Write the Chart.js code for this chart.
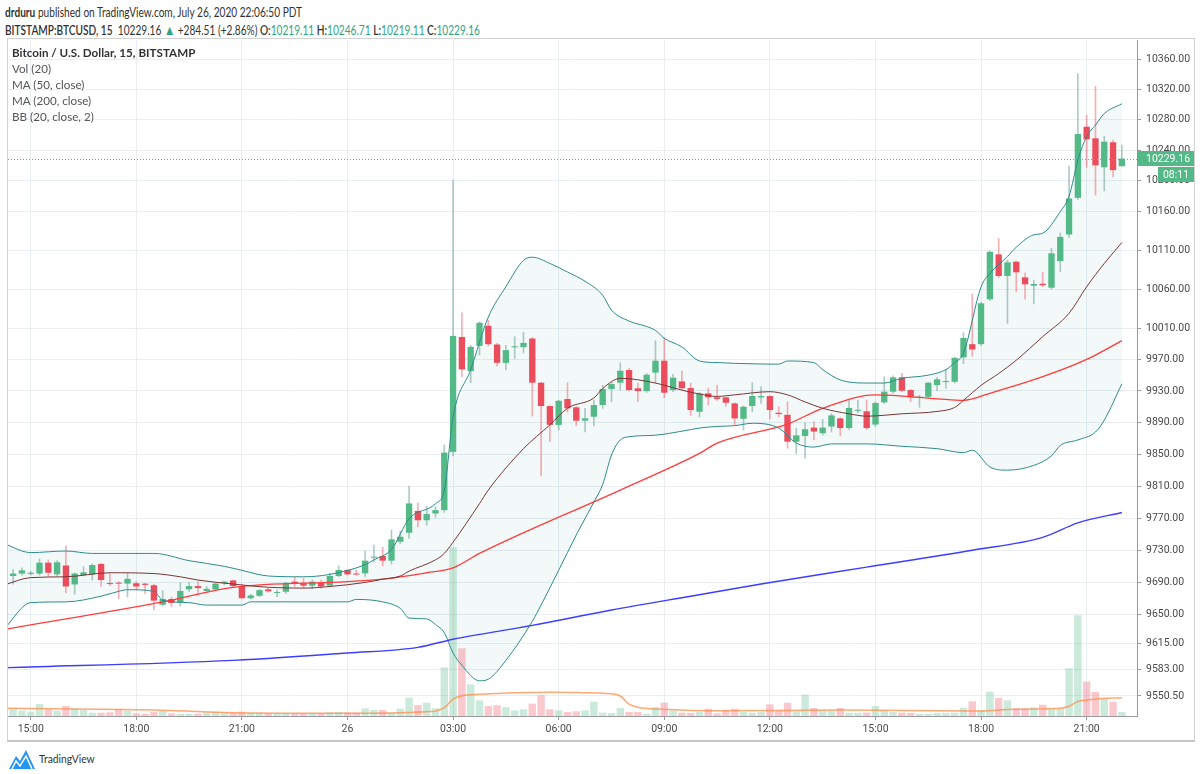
<!DOCTYPE html>
<html><head><meta charset="utf-8">
<script src="https://cdn.jsdelivr.net/npm/chart.js"></script>
<style>
body{margin:0;background:#fff;width:1200px;height:774px;overflow:hidden;font-family:Lato,'Open Sans',sans-serif;color:#333;position:relative}
.hdr{position:absolute;left:5px;white-space:nowrap;font-size:12.5px;color:#333;transform:scaleX(0.81);transform-origin:0 0}
#h1{top:5px}
#h2{top:21px}
.t{color:#2fa586}
#frame{position:absolute;left:7px;top:38px;width:1188px;height:704px;border:1px solid #d2d2d2;border-bottom:2px solid #c6c6c6;box-sizing:border-box}
#wrap{position:absolute;left:8px;top:40px;width:1186px;height:700px}
.lg{position:absolute;left:12px;font-size:12px;color:#555;white-space:nowrap;transform:scaleX(0.97);transform-origin:0 0}
#logo{position:absolute;left:8px;top:748px}
#logotext{position:absolute;left:39px;top:751px;font-size:12px;color:#333;transform:scaleX(0.86);transform-origin:0 0}
</style></head><body>
<div id="h1" class="hdr"><b>drduru</b> published on TradingView.com, July 26, 2020 22:06:50 PDT</div>
<div id="h2" class="hdr"><b style="font-weight:600">BITSTAMP:BTCUSD, 15</b>&nbsp; 10229.16 <span class="t" style="font-size:14px">▲</span> +284.51 (+2.86%) <b style="font-weight:600">O:</b><span class="t">10219.11</span> <b style="font-weight:600">H:</b><span class="t">10246.71</span> <b style="font-weight:600">L:</b><span class="t">10219.11</span> <b style="font-weight:600">C:</b><span class="t">10229.16</span></div>
<div id="frame"></div>
<div id="wrap"><canvas id="c" width="1186" height="700"></canvas></div>
<div class="lg" style="top:45px;color:#333;font-weight:bold">Bitcoin / U.S. Dollar, 15, BITSTAMP</div>
<div class="lg" style="top:61px">Vol (20)</div>
<div class="lg" style="top:77px">MA (50, close)</div>
<div class="lg" style="top:93px">MA (200, close)</div>
<div class="lg" style="top:109px">BB (20, close, 2)</div>
<svg id="logo" width="28" height="22" viewBox="0 0 28 22"><path d="M1 21 L8 8 L12 13 L18 2 L27 21 Z" fill="#2196f3"/><path d="M4 21 L8 13 L12 18 L18 8 L24 21" fill="none" stroke="#fff" stroke-width="1.5"/></svg>
<div id="logotext">TradingView</div>
<script>
// ---- categories: 15-minute candles from 25 Jul 14:15 to 26 Jul 22:00 ----
const candleCount = 128;
function timeLabel(i){const m=14*60+15+15*i;const d=25+Math.floor(m/1440);const mm=m%1440;return '07-'+d+' '+String(Math.floor(mm/60)).padStart(2,'0')+':'+String(mm%60).padStart(2,'0');}
const times = Array.from({length:candleCount},(_,i)=>timeLabel(i));
const tickTimes = ['07-25 15:00','07-25 18:00','07-25 21:00','07-26 00:00','07-26 03:00','07-26 06:00','07-26 09:00','07-26 12:00','07-26 15:00','07-26 18:00','07-26 21:00'];
const tickLabels = ['15:00','18:00','21:00','26','03:00','06:00','09:00','12:00','15:00','18:00','21:00'];
const priceTicks = [10360,10320,10280,10240,10200,10160,10110,10060,10010,9970,9930,9890,9850,9810,9770,9730,9690,9650,9615,9583,9550.5];

// ---- OHLC ----
const opens = [9716,9698,9701,9700.5,9701,9714.5,9700,9711,9687.5,9699,
9700,9713,9689,9689,9688.5,9689,9688.5,9686.5,9662.5,9669.5,
9665,9681.5,9685.5,9679.5,9681.5,9689,9692.5,9685.5,9670.5,9673.5,
9681.5,9677,9678.5,9691,9689,9686,9690,9686,9698,9705.5,
9700.5,9701.3,9720.7,9722.8,9717,9740.5,9751.7,9779,9767.3,9775.7,
9779.9,9853,9998.7,9955.2,9987.3,10012.9,9989,9965.7,9985.5,9985.6,
9996.7,9940.4,9910.8,9887,9919.7,9909.2,9892.3,9897.3,9912.1,9932.4,
9940.4,9956.5,9933.3,9929.8,9953.2,9968.4,9931.1,9942.1,9933.6,9903.6,
9926.9,9921.8,9921.8,9914.2,9894.7,9910.8,9921.8,9923.5,9902.3,9899.7,
9865.8,9873,9883.6,9876.5,9885,9895.2,9883,9904.8,9904.2,9887.4,
9915.4,9929,9947.2,9931.1,9921.4,9922.6,9937.4,9941.2,9941.6,9972.6,
9989.4,9989.4,10046.9,10104.7,10076.8,10095.2,10075.1,10064.3,10066.9,10061.8,
10096,10130.4,10177.9,10270.8,10255.6,10217.7,10250.4,10219.11];
const highs = [9722,9706,9708,9704,9719,9718,9717,9735.5,9702,9709.5,
9713,9713.5,9701,9691,9701,9691,9689,9688,9680,9672,
9690,9690.5,9691,9685,9690,9691.5,9693,9687,9675.5,9681.5,
9683,9680.5,9690,9696.5,9695,9693,9693,9701.5,9710.5,9706,
9705,9729,9736.4,9733.5,9755,9754,9810,9789,9785,9784,
9861.6,10201,10029.6,9988,10018,10020,9990.5,9988,9999,10004.5,
9998,9941,9911,9918,9940.4,9910,9907.9,9918.4,9937,9941,
9965.7,9958.6,9940,9952,9993.8,9997.6,9951,9955.2,9940,9928,
9933.6,9937.4,9922,9915,9911,9940.4,9935.3,9924,9910,9916.3,
9882.6,9889.7,9891,9894,9901.2,9896,9918.4,9918.4,9918.4,9916,
9948,9949,9952.3,9932,9924.8,9941,9947.2,9957.3,9973,10004,
10053.7,10043,10109.3,10125.3,10097.4,10096,10081,10071.7,10081.6,10112.4,
10132.4,10219.4,10340.8,10286,10324,10258.6,10253.4,10246.71];
const lows = [9694,9688,9699,9699,9699,9697,9698,9677,9675.5,9698,
9693,9685,9686,9670,9672,9681,9676,9656.5,9661,9660,
9661,9678.5,9674.5,9678.5,9680,9687,9684.5,9670,9669.5,9672.5,
9678,9672.5,9676,9685,9683,9682,9683,9685,9697,9699,
9699,9697.3,9715.7,9710.4,9712.8,9738,9744.7,9759,9761,9771,
9777,9848,9948,9940.4,9975.5,9987,9961.5,9957,9971.3,9978.4,
9898.1,9822.6,9865.8,9880.5,9903,9885.8,9878,9885.8,9908,9916.3,
9931,9930,9916.3,9928,9939.6,9921.3,9929,9932,9899,9897.2,
9912,9918,9910.8,9886.7,9880.4,9903.6,9914.2,9894.5,9897.2,9857.5,
9851,9845,9868,9874,9878,9873.3,9881,9902,9881,9885,
9914,9927,9929,9916.3,9909.2,9921,9930.2,9933.3,9940,9964.6,
9974.2,9988,10045,10075,10016,10056.6,10046.9,10040.8,10063,10060,
10082.3,10126.7,10176,10217.7,10181.4,10187,10205,10219.11];
const closes = [9698,9701,9705,9702,9714.5,9702,9715,9685,9701,9702.5,
9711.5,9693,9688,9688.5,9694.5,9685,9687,9667.5,9669.5,9664.5,
9679.5,9685.5,9683,9682,9688.5,9691,9685.5,9670.5,9674,9680.5,
9679,9677.5,9689.5,9689,9686,9691,9685,9698,9705.5,9700,
9699.8,9717,9721.9,9717,9743.5,9746.7,9788.3,9767.3,9775,9779.9,
9852,10000,9957.3,9986,10016.8,9989.4,9965.7,9981.8,9986.5,9991.1,
9940.4,9910.8,9887,9917.5,9907.9,9892.3,9895.3,9912.1,9932.4,9938.7,
9955.6,9931.1,9929.8,9950.5,9968.4,9927.7,9946.7,9933.3,9905.7,9926.9,
9921.8,9919.7,9915,9895.2,9909.9,9923.5,9923.5,9905.7,9900.7,9865.8,
9873.8,9881.5,9878.6,9883.6,9899,9883,9908.4,9905.6,9883,9914.6,
9929,9947.2,9930.2,9921.8,9922.2,9940.4,9944.7,9942.5,9972,9997.4,
9982.7,10041.7,10108,10076.8,10094.4,10081.6,10066.1,10066.5,10064.9,10106,
10127.3,10177.1,10261.2,10254.3,10220.3,10251.2,10214,10229.16];
const volumes = [110,77,53,43,120,67,53,100,77,60,
33,33,37,67,53,27,23,40,53,27,
23,23,23,37,43,37,33,43,33,33,
27,27,27,27,27,30,30,37,40,37,
33,77,60,60,33,73,183,110,133,77,
487,1687,677,317,157,100,107,90,57,67,
123,207,67,57,40,47,57,143,33,30,
80,40,40,23,90,133,57,33,30,40,
73,27,57,73,40,33,40,117,57,133,
47,213,80,57,57,80,33,30,33,100,
57,40,33,30,23,23,30,30,33,83,
147,57,243,180,157,77,77,87,113,73,
73,477,1007,343,240,173,143,40];

// ---- indicators: [candle number, value] ----
const ma200 = [[0,9585],[26,9594],[39,9603],[47,9610],[51,9620],[60,9637],[69,9656],[78,9673],[86,9688],[98,9709],[110,9730],[118,9746],[122,9764],[127,9777]];
const ma50 = [[0,9632],[18,9666],[26,9684],[39,9691],[43,9694],[48,9702],[51,9708],[54,9726],[70,9805],[79,9851],[81,9864],[89,9888],[93,9908],[99,9925],[106,9920],[109,9918],[112,9927],[118,9948],[123,9970],[127,9994]];
const bbMid = [[0,9687],[3,9696],[7,9697],[12,9702],[17,9701],[20,9697],[22,9693],[26,9688],[30,9684],[34,9683],[37,9685],[41,9690],[43,9694],[45,9698],[46,9704],[49,9718],[50,9726],[51,9740],[54,9788],[55,9805],[59,9857],[62,9887],[64,9908],[67,9921],[68,9933],[70,9946],[74,9940],[76,9934],[77,9931],[79,9926],[81,9923],[83,9925],[87,9929],[89,9925],[91,9916],[93,9908],[96,9901],[98,9898],[102,9901],[106,9904],[108,9909],[109,9918],[111,9937],[113,9952],[115,9969],[118,9999],[121,10029],[123,10063],[125,10093],[127,10120]];
const bbUpper = [[0,9738],[3,9727],[7,9729],[10,9726],[17,9726],[21,9717],[25,9710],[27,9705],[30,9698],[34,9697],[37,9700],[41,9712],[42,9718],[44,9731],[46,9769],[49,9788],[50,9805],[51,9897],[53,9957],[55,10024],[57,10063],[59,10097],[60,10101],[62,10093],[64,10082],[66,10070],[68,10052],[69,10033],[71,10019],[73,10012],[74,10007],[75,9997],[77,9986],[79,9968],[81,9966],[83,9965],[88,9964],[89,9968],[92,9966],[93,9957],[95,9944],[98,9940],[100,9940],[102,9946],[105,9950],[107,9957],[108,9966],[109,9978],[111,10063],[112,10080],[114,10102],[115,10114],[117,10130],[118,10132],[120,10160],[121,10180],[122,10227],[123,10258],[124,10273],[125,10288],[127,10301]];
const bbLower = [[0,9633],[3,9665],[7,9666],[11,9673],[13,9679],[14,9681],[17,9679],[18,9668],[21,9665],[23,9662],[27,9662],[28,9666],[39,9666],[40,9669],[43,9666],[45,9658],[46,9646],[48,9645],[49,9638],[50,9628],[51,9603],[52,9588],[54,9569],[55,9571],[57,9594],[60,9642],[61,9662],[63,9705],[65,9749],[67,9790],[68,9812],[69,9849],[70,9868],[71,9872],[74,9874],[77,9879],[79,9883],[81,9885],[83,9886],[85,9889],[88,9883],[90,9864],[92,9859],[94,9863],[98,9863],[102,9860],[106,9857],[109,9852],[110,9855],[112,9834],[114,9830],[117,9836],[119,9848],[120,9861],[122,9868],[124,9878],[125,9893],[127,9939]];
const volMA = [[0,77],[17,60],[26,33],[39,27],[48,43],[49,50],[50,84],[51,168],[52,202],[54,217],[62,237],[69,222],[70,200],[71,118],[72,88],[73,74],[74,70],[80,52],[95,60],[110,50],[115,67],[120,77],[121,97],[122,145],[123,160],[124,171],[127,183]];
const countdown = '08:11';

const UP='#53b987', DOWN='#eb4d5c';
const isUp = i => closes[i] >= opens[i];
const tickIdx = tickTimes.map(t => times.indexOf(t));
const pts = arr => arr.map(([i,v]) => ({x:i, y:v}));
const lastClose = closes[closes.length-1];

const bbFill = {
  id:'bbFill',
  beforeDatasetsDraw(chart){
    const up = chart.getDatasetMeta(5).data, lo = chart.getDatasetMeta(6).data;
    const ctx = chart.ctx, a = chart.chartArea;
    ctx.save();
    ctx.beginPath(); ctx.rect(a.left,a.top,a.width,a.height); ctx.clip();
    ctx.beginPath();
    up.forEach((p,k)=>{ if(k===0) ctx.moveTo(p.x,p.y); else ctx.lineTo(p.x,p.y); });
    for(let k=lo.length-1;k>=0;k--) ctx.lineTo(lo[k].x,lo[k].y);
    ctx.closePath();
    ctx.fillStyle='rgba(40,150,150,0.055)';
    ctx.fill();
    ctx.restore();
  }
};
const lastPrice = {
  id:'lastPrice',
  afterDatasetsDraw(chart){
    const ctx=chart.ctx, a=chart.chartArea, y=chart.scales.y.getPixelForValue(lastClose);
    ctx.save();
    ctx.strokeStyle=UP; ctx.lineWidth=1; ctx.setLineDash([1,2]);
    ctx.beginPath(); ctx.moveTo(a.left,Math.round(y)+0.5); ctx.lineTo(a.right,Math.round(y)+0.5); ctx.stroke();
    ctx.restore();
  },
  afterDraw(chart){
    const ctx=chart.ctx, a=chart.chartArea, y=chart.scales.y.getPixelForValue(lastClose), W=chart.width;
    ctx.save();
    ctx.fillStyle=UP;
    ctx.fillRect(a.right, Math.round(y)-8, W-a.right, 15);
    ctx.fillRect(a.right+21, Math.round(y)+8, W-a.right-21, 15);
    ctx.fillStyle='#fff'; ctx.font='10.5px Roboto'; ctx.textBaseline='middle';
    ctx.fillText(lastClose.toFixed(2), a.right+9, Math.round(y));
    ctx.textAlign='center';
    ctx.fillText(countdown, (a.right+21+W)/2, Math.round(y)+16);
    ctx.restore();
  }
};
const smooth = {cubicInterpolationMode:'monotone', pointRadius:0};

new Chart(document.getElementById('c'), {
  type:'bar',
  data:{datasets:[
    {type:'bar', data:times.map((t,i)=>({x:i,y:[lows[i],highs[i]]})), barThickness:1, grouped:false, order:3, yAxisID:'y',
      backgroundColor:c=>isUp(c.dataIndex)?'rgba(110,160,150,0.55)':'rgba(235,77,92,0.45)'},
    {type:'bar', data:times.map((t,i)=>({x:i,y:[opens[i],closes[i]]})), barPercentage:0.72, categoryPercentage:1, minBarLength:1, grouped:false, order:2, yAxisID:'y',
      backgroundColor:c=>isUp(c.dataIndex)?UP:DOWN},
    {type:'bar', data:times.map((t,i)=>({x:i,y:volumes[i]})), barPercentage:0.85, categoryPercentage:1, grouped:false, order:6, yAxisID:'yv',
      backgroundColor:c=>isUp(c.dataIndex)?'rgba(83,185,135,0.3)':'rgba(235,77,92,0.3)'},
    {type:'line', data:pts(volMA), yAxisID:'yv', borderColor:'rgba(255,140,70,0.75)', borderWidth:1.5, order:5, ...smooth},
    {type:'line', data:pts(ma200), yAxisID:'y', borderColor:'#3d3dff', borderWidth:1.4, order:1, ...smooth},
    {type:'line', data:pts(bbUpper), yAxisID:'y', borderColor:'#2f8b8b', borderWidth:1, order:1, ...smooth},
    {type:'line', data:pts(bbLower), yAxisID:'y', borderColor:'#2f8b8b', borderWidth:1, order:1, ...smooth},
    {type:'line', data:pts(bbMid), yAxisID:'y', borderColor:'#7a3535', borderWidth:1, order:1, ...smooth},
    {type:'line', data:pts(ma50), yAxisID:'y', borderColor:'#ff3c3c', borderWidth:1.3, order:1, ...smooth}
  ]},
  options:{
    responsive:false, animation:false, events:[],
    layout:{padding:0},
    plugins:{legend:{display:false}, tooltip:{enabled:false}},
    scales:{
      x:{type:'linear', min:0.42, max:128.72, offset:false, bounds:'data',
        grid:{color:'#e8eef2', tickLength:4, tickColor:'#9a9a9a', offset:false},
        border:{color:'#9a9a9a'},
        ticks:{autoSkip:false, maxRotation:0, padding:3, color:'#4a4a4a', font:{family:'Roboto', size:10.5},
          callback:v=>{const k=tickIdx.indexOf(v); return k>=0?tickLabels[k]:'';}},
        afterBuildTicks:s=>{s.ticks=tickIdx.map(v=>({value:v}));},
        afterFit:s=>{s.height=24; s.paddingLeft=0; s.paddingRight=0;}
      },
      y:{type:'logarithmic', position:'right', min:9526.1, max:10385.2, bounds:'data',
        grid:{color:'#e8eef2', tickLength:4, tickColor:'#9a9a9a'},
        border:{color:'#9a9a9a'},
        ticks:{autoSkip:false, padding:5, color:'#4a4a4a', font:{family:'Roboto', size:10.5}, callback:v=>Number(v).toFixed(2)},
        afterBuildTicks:s=>{s.ticks=priceTicks.map(v=>({value:v}));},
        afterFit:s=>{s.width=57; s.paddingTop=0; s.paddingBottom=0;}
      },
      yv:{type:'linear', display:false, min:0, max:6760}
    }
  },
  plugins:[bbFill, lastPrice]
});
</script>
</body></html>
